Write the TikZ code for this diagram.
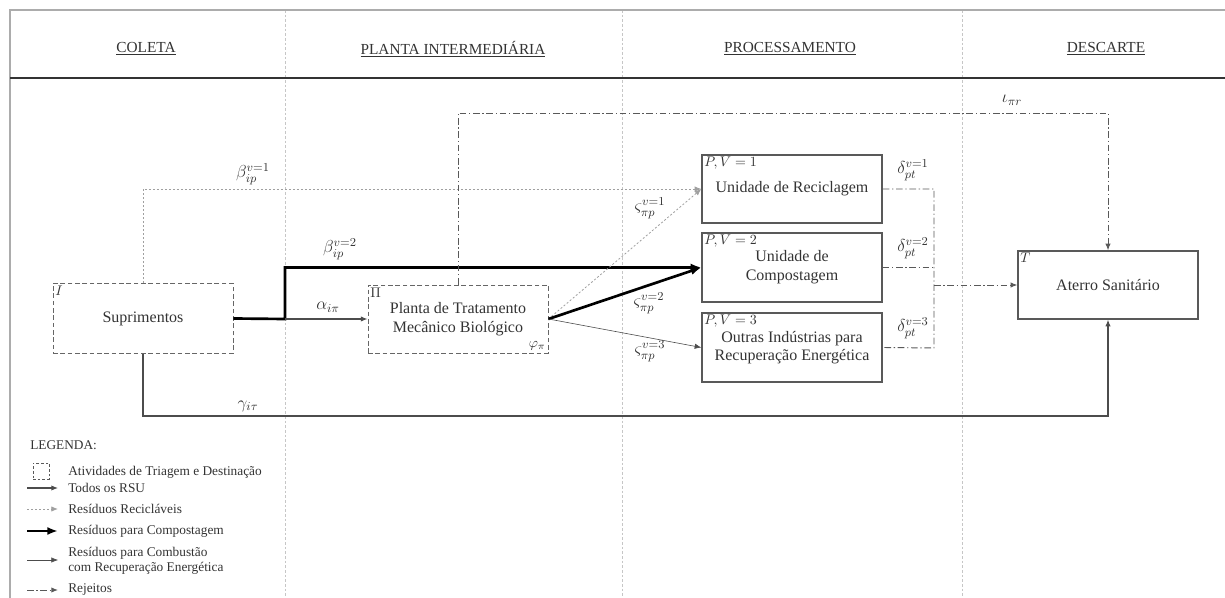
\RequirePackage{fix-cm}
\documentclass[tikz,border=0pt]{standalone}
\usepackage{fontspec}
\setmainfont{Liberation Serif}
\usetikzlibrary{arrows.meta,calc}
\begin{document}
\begin{tikzpicture}[x=0.75pt,y=-0.75pt,
  every node/.style={text=black!80, inner sep=1.5pt},
  frameline/.style={draw=gray!65, line width=1.6pt},
  sepline/.style={draw=black!80, line width=1.4pt},
  divider/.style={draw=gray!45, line width=0.5pt, dash pattern=on 2pt off 1.5pt},
  hdr/.style={font=\fontsize{11.5}{13}\selectfont},
  boxtxt/.style={align=center, font=\fontsize{12}{14}\selectfont},
  dashbox/.style={boxtxt, draw=gray!80!black, line width=0.7pt, dash pattern=on 3.5pt off 2pt},
  solidbox/.style={boxtxt, draw=gray!70!black, line width=1pt},
  tag/.style={font=\fontsize{10.5}{12}\selectfont, inner sep=2pt},
  lbl/.style={font=\fontsize{13}{15}\selectfont, inner sep=0.5pt},
  legtxt/.style={font=\fontsize{10}{11.5}\selectfont, anchor=west, align=left, inner sep=0pt},
  tipA/.tip={Latex[length=5pt,width=4pt]},
  allflow/.style={draw=gray!60!black, line width=0.8pt, -tipA},
  recyc/.style={draw=gray!75, line width=0.6pt, dash pattern=on 1.5pt off 1.5pt, -tipA},
  compost/.style={draw=black, line width=2pt, -{Latex[length=8pt,width=6pt]}},
  combust/.style={draw=gray!60!black, line width=0.45pt, -tipA},
  reject/.style={draw=gray!70!black, line width=0.7pt, dash pattern=on 5pt off 2pt on 1pt off 2pt, -tipA},
  rejectline/.style={draw=gray!70!black, line width=0.7pt, dash pattern=on 5pt off 2pt on 1pt off 2pt},
]
\useasboundingbox (0,0) rectangle (1225,598);

% frame and columns
\draw[divider] (285,10) -- (285,598);
\draw[divider] (622,10) -- (622,598);
\draw[divider] (962,10) -- (962,598);
\draw[frameline] (10,598) -- (10,10) -- (1225,10);
\draw[sepline] (10,78) -- (1225,78);

% headers
\node[hdr] (h1) at (146,49) {\underline{COLETA}};
\node[hdr] (h2) at (453,49) {\underline{PLANTA INTERMEDIÁRIA}};
\node[hdr] (h3) at (790,49) {\underline{PROCESSAMENTO}};
\node[hdr] (h4) at (1106,49) {\underline{DESCARTE}};

% boxes
\node[dashbox, minimum width=180*0.75pt, minimum height=70*0.75pt] (sup) at (143,318.5) {Suprimentos};
\node[dashbox, minimum width=180*0.75pt, minimum height=68*0.75pt] (pl) at (458,319) {Planta de Tratamento\\Mecânico Biológico};
\node[solidbox, minimum width=180*0.75pt, minimum height=68*0.75pt] (rec) at (792,189) {Unidade de Reciclagem};
\node[solidbox, minimum width=180*0.75pt, minimum height=69*0.75pt] (comp) at (792,267.5) {Unidade de\\Compostagem};
\node[solidbox, minimum width=180*0.75pt, minimum height=69*0.75pt] (out) at (792,347.5) {Outras Indústrias para\\Recuperação Energética};
\node[solidbox, minimum width=180*0.75pt, minimum height=68*0.75pt] (at) at (1108,285) {Aterro Sanitário};

% box tags
\node[tag, anchor=north west] (tI) at (sup.north west) {$I$};
\node[tag, anchor=north west] (tPi) at (pl.north west) {$\Pi$};
\node[tag, anchor=south east] (tphi) at (pl.south east) {$\varphi_\pi$};
\node[tag, anchor=north west] (tr) at (rec.north west) {$P,V=1$};
\node[tag, anchor=north west] (tc) at (comp.north west) {$P,V=2$};
\node[tag, anchor=north west] (to) at (out.north west) {$P,V=3$};
\node[tag, anchor=north west] (tT) at (at.north west) {$T$};

% junction coordinates
\coordinate (j) at (285,319);
\coordinate (itop) at (1108,113);
\coordinate (gbot) at (1108,416);
\coordinate (d1) at (934,189);
\coordinate (d3) at (934,348);
\coordinate (dm) at (934,285);

% connectors
\draw[recyc] (sup.north) |- (rec.west);
\draw[compost] (sup.east) -- (j) |- (comp.west);
\draw[allflow] (j) -- (pl.west);
\draw[reject] (pl.north) |- (itop) -- (at.north);
\draw[recyc] (pl.east) -- (rec.west);
\draw[compost] (pl.east) -- (comp.west);
\draw[combust] (pl.east) -- (out.west);
\draw[rejectline] (rec.east) -- (d1) -- (d3) -- (out.east);
\draw[rejectline] (comp.east) -- (comp.east -| d1);
\draw[reject] (dm) -- (at.west);
\draw[allflow] (sup.south) |- (gbot) -- (at.south);

% connector labels
\node[lbl] (lb1) at (253,174) {$\beta_{ip}^{v=1}$};
\node[lbl] (lb2) at (340,249) {$\beta_{ip}^{v=2}$};
\node[lbl] (la) at (328,307) {$\alpha_{i\pi}$};
\node[lbl] (lg) at (248,406) {$\gamma_{i\tau}$};
\node[lbl] (li) at (1012,100) {$\iota_{\pi r}$};
\node[lbl] (ls1) at (650,208) {$\varsigma_{\pi p}^{v=1}$};
\node[lbl] (ls2) at (649,303) {$\varsigma_{\pi p}^{v=2}$};
\node[lbl] (ls3) at (650,351) {$\varsigma_{\pi p}^{v=3}$};
\node[lbl] (ld1) at (913,170) {$\delta_{pt}^{v=1}$};
\node[lbl] (ld2) at (913,248) {$\delta_{pt}^{v=2}$};
\node[lbl] (ld3) at (913,328) {$\delta_{pt}^{v=3}$};

% legend
\node[legtxt] (leg) at (30,445) {LEGENDA:};
\node[draw=gray!70!black, line width=0.6pt, dash pattern=on 2pt off 1.5pt, minimum size=16*0.75pt, inner sep=0pt] (lsq) at (41,471) {};
\node[legtxt] (lt0) at (68,472) {Atividades de Triagem e Destinação};
\coordinate (a1) at (27,488); \coordinate (b1) at (58,488);
\draw[allflow] (a1) -- (b1);
\node[legtxt] (lt1) at (68,488) {Todos os RSU};
\coordinate (a2) at (27,509); \coordinate (b2) at (58,509);
\draw[recyc] (a2) -- (b2);
\node[legtxt] (lt2) at (68,509) {Resíduos Recicláveis};
\coordinate (a3) at (27,531); \coordinate (b3) at (58,531);
\draw[compost] (a3) -- (b3);
\node[legtxt] (lt3) at (68,531) {Resíduos para Compostagem};
\coordinate (a4) at (27,560); \coordinate (b4) at (58,560);
\draw[combust] (a4) -- (b4);
\node[legtxt] (lt4) at (68,560.5) {Resíduos para Combustão\\com Recuperação Energética};
\coordinate (a5) at (27,590); \coordinate (b5) at (58,590);
\draw[reject] (a5) -- (b5);
\node[legtxt] (lt5) at (68,590) {Rejeitos};
\end{tikzpicture}
\end{document}
